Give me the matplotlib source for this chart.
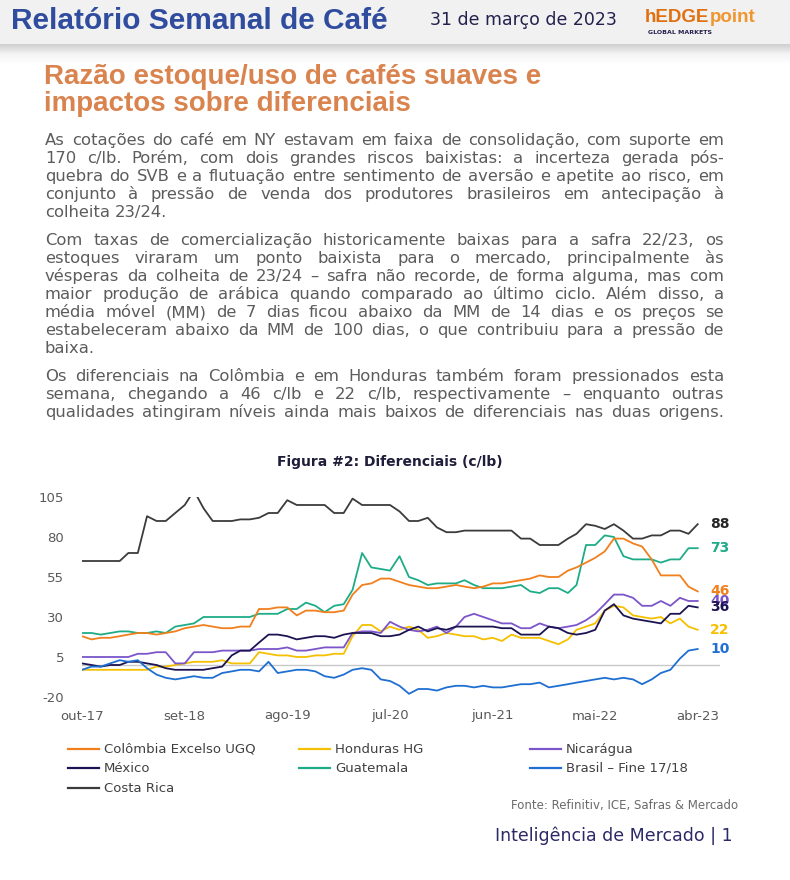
import pandas as pd
import matplotlib
matplotlib.use('Agg')
import matplotlib.pyplot as plt
import matplotlib.dates as mdates
from matplotlib.lines import Line2D
from matplotlib.patches import Rectangle
from matplotlib.transforms import blended_transform_factory
import numpy as np

W, H = 790, 880

# leituras mensais (c/lb), out-17 .. mar-23 + última semana de mar-23
datas = list(pd.date_range('2017-10-01', '2023-03-01', freq='MS')) + [pd.Timestamp('2023-03-31')]

colombia = [18, 16, 17, 17, 18, 19, 20, 20, 19, 20, 21, 23, 24, 25, 24, 23,
            23, 24, 24, 35, 35, 36, 36, 31, 34, 34, 33, 33, 34, 44, 50, 51, 54,
            54, 52, 50, 49, 48, 48, 49, 50, 49, 48, 49, 51, 51, 52, 53, 54,
            56, 55, 55, 59, 61, 64, 67, 71, 79, 79, 76, 74, 66, 56, 56, 56, 49, 46]
mexico = [1, 0, -1, 0, 0, 2, 2, 1, 0, -2, -3, -3, -3, -3, -2, -1,
          6, 9, 9, 14, 19, 19, 18, 16, 17, 18, 18, 17, 19, 20, 20, 20, 18,
          18, 19, 22, 24, 21, 23, 22, 24, 24, 24, 24, 24, 23, 23, 19, 19,
          19, 24, 23, 20, 19, 20, 22, 34, 38, 31, 29, 28, 27, 26, 32, 32, 37, 36]
costa_rica = [65, 65, 65, 65, 65, 70, 70, 93, 90, 90, 95, 100, 109, 98, 90, 90,
              90, 91, 91, 92, 95, 95, 103, 100, 100, 100, 100, 95, 95, 104, 100, 100, 100,
              100, 96, 90, 90, 92, 86, 83, 83, 84, 84, 84, 84, 84, 84, 79, 79,
              75, 75, 75, 79, 82, 88, 87, 85, 88, 84, 79, 79, 81, 81, 84, 84, 82, 88]
honduras = [-3, -3, -3, -3, -3, -3, -3, -3, -1, -1, 0, 1, 2, 2, 2, 3,
            1, 1, 1, 8, 7, 6, 6, 5, 5, 6, 6, 7, 7, 18, 25, 25, 21,
            24, 22, 24, 22, 17, 18, 20, 19, 18, 18, 16, 17, 15, 19, 17, 17,
            17, 15, 13, 16, 22, 24, 26, 34, 37, 36, 31, 30, 29, 30, 26, 29, 24, 22]
guatemala = [20, 20, 19, 20, 21, 21, 20, 20, 21, 20, 24, 25, 26, 30, 30, 30,
             30, 30, 30, 32, 32, 32, 35, 35, 39, 37, 33, 37, 38, 47, 70, 61, 60,
             59, 68, 55, 53, 50, 51, 51, 51, 53, 50, 48, 48, 48, 49, 50, 46,
             45, 48, 48, 45, 50, 75, 75, 81, 80, 68, 66, 66, 66, 64, 66, 66, 73, 73]
nicaragua = [5, 5, 5, 5, 5, 5, 7, 7, 8, 8, 1, 1, 8, 8, 8, 9,
             9, 9, 9, 10, 10, 10, 11, 9, 9, 10, 11, 11, 11, 20, 21, 21, 20,
             27, 24, 22, 21, 22, 24, 20, 24, 30, 32, 30, 28, 26, 26, 23, 23,
             26, 24, 23, 24, 25, 28, 32, 38, 44, 44, 42, 37, 37, 40, 37, 42, 40, 40]
brasil = [-3, -1, -1, 1, 3, 2, 3, -2, -6, -8, -9, -8, -7, -8, -8, -5,
          -4, -3, -3, -4, 2, -5, -4, -3, -3, -4, -7, -8, -6, -3, -2, -3, -9,
          -10, -13, -18, -15, -15, -16, -14, -13, -13, -14, -13, -14, -14, -13, -12, -12,
          -11, -14, -13, -12, -11, -10, -9, -8, -9, -8, -9, -12, -9, -5, -3, 4, 9, 10]

tick_datas = ['2017-10-01', '2018-09-01', '2019-08-01', '2020-07-01',
              '2021-06-01', '2022-05-01', '2023-04-01']
tick_labels = ['out-17', 'set-18', 'ago-19', 'jul-20', 'jun-21', 'mai-22', 'abr-23']
y_ticks = [105, 80, 55, 30, 5, -20]

# nome, valores, cor (ordem de desenho)
series = [
    ('Costa Rica', costa_rica, '#3b3b3b'),
    ('Guatemala', guatemala, '#1eac88'),
    ('Colômbia Excelso UGQ', colombia, '#f07f1c'),
    ('Honduras HG', honduras, '#f5c000'),
    ('Nicarágua', nicaragua, '#7b55c9'),
    ('México', mexico, '#1c1452'),
    ('Brasil – Fine 17/18', brasil, '#1f6fd2'),
]
label_cores = {'Costa Rica': '#262626'}

paragrafo1 = [
    "As cotações do café em NY estavam em faixa de consolidação, com suporte em",
    "170 c/lb. Porém, com dois grandes riscos baixistas: a incerteza gerada pós-",
    "quebra do SVB e a flutuação entre sentimento de aversão e apetite ao risco, em",
    "conjunto à pressão de venda dos produtores brasileiros em antecipação à",
    "colheita 23/24.",
]
paragrafo2 = [
    "Com taxas de comercialização historicamente baixas para a safra 22/23, os",
    "estoques viraram um ponto baixista para o mercado, principalmente às",
    "vésperas da colheita de 23/24 – safra não recorde, de forma alguma, mas com",
    "maior produção de arábica quando comparado ao último ciclo. Além disso, a",
    "média móvel (MM) de 7 dias ficou abaixo da MM de 14 dias e os preços se",
    "estabeleceram abaixo da MM de 100 dias, o que contribuiu para a pressão de",
    "baixa.",
]
paragrafo3 = [
    "Os diferenciais na Colômbia e em Honduras também foram pressionados esta",
    "semana, chegando a 46 c/lb e 22 c/lb, respectivamente – enquanto outras",
    "qualidades atingiram níveis ainda mais baixos  de diferenciais nas duas origens.",
]

fig = plt.figure(figsize=(W / 100, H / 100), dpi=100)
fig.patch.set_facecolor('white')
renderer = fig.canvas.get_renderer()


def fx(px):
    return px / W


def fy(py):
    return 1 - py / H


# --- faixa do cabeçalho + sombra
bg = fig.add_axes([0, 0, 1, 1], zorder=-5)
bg.axis('off')
bg.add_patch(Rectangle((0, 0), W, 44, color='#f1f1f1', lw=0))
grad = np.linspace(0, 1, 40).reshape(-1, 1)
sombra = matplotlib.colors.LinearSegmentedColormap.from_list('s', ['#cfcfcf', '#f4f4f4', '#ffffff'])
bg.imshow(grad, cmap=sombra, extent=(0, W, 64, 44), aspect='auto', zorder=1)
bg.set_xlim(0, W)
bg.set_ylim(H, 0)

fig.text(fx(11), fy(21), 'Relatório Semanal de Café', fontsize=21.5, fontweight='bold',
         family='Liberation Sans', color='#2f4c9e', va='center')
fig.text(fx(430), fy(20), '31 de março de 2023', fontsize=12.5, color='#23204e',
         family='DejaVu Sans', va='center')
logo1 = fig.text(fx(645), fy(18), 'hEDGE', fontsize=13.5, fontweight='bold',
                 family='Liberation Sans', color='#e07010', va='center')
x_point = 645 + logo1.get_window_extent(renderer).width
fig.text(fx(x_point), fy(18), 'point', fontsize=13.5, fontweight='bold',
         family='Liberation Sans', color='#f0962e', va='center')
fig.text(fx(648), fy(33), 'GLOBAL MARKETS', fontsize=4.5, fontweight='bold',
         family='DejaVu Sans', color='#23204e', va='center')

fig.text(fx(44), fy(84), 'Razão estoque/uso de cafés suaves e', fontsize=20,
         fontweight='bold', family='Liberation Sans', color='#d9844f', va='baseline')
fig.text(fx(44), fy(111), 'impactos sobre diferenciais', fontsize=20,
         fontweight='bold', family='Liberation Sans', color='#d9844f', va='baseline')

# --- texto justificado
estilo = dict(fontsize=10.5, family='DejaVu Sans', color='#5c5c5c')


def largura(s):
    t = fig.text(0, 0, s, **estilo)
    w = t.get_window_extent(renderer).width
    t.remove()
    return w


# tamanho da fonte ajustado para a 1a linha ocupar a largura da coluna
nat1 = largura(paragrafo1[0])
estilo['fontsize'] = min(11.8, 10.5 * 676 / nat1)
esp_nat = largura('x x') - largura('xx')


def paragrafo(linhas, y_base, x0=45, x1=724, passo=18):
    alvo = x1 - x0
    for i, linha in enumerate(linhas):
        palavras = linha.split()
        ws = [largura(p) for p in palavras]
        natural = sum(ws) + esp_nat * (len(palavras) - 1)
        ultima = i == len(linhas) - 1
        if (not ultima or natural > 0.9 * alvo) and len(palavras) > 1:
            esp = (alvo - sum(ws)) / (len(palavras) - 1)
        else:
            esp = esp_nat
        x = x0
        for p, w in zip(palavras, ws):
            fig.text(fx(x), fy(y_base + i * passo), p, va='baseline', **estilo)
            x += w + esp


paragrafo(paragrafo1, 145)
paragrafo(paragrafo2, 245)
paragrafo(paragrafo3, 381)

# --- gráfico
fig.text(fx(390), fy(462), 'Figura #2: Diferenciais (c/lb)', fontsize=10, fontweight='bold',
         family='DejaVu Sans', color='#1f1d3a', ha='center', va='center')

ax = fig.add_axes([fx(82), fy(697), fx(720) - fx(82), (697 - 497) / H])
d0 = mdates.date2num(pd.Timestamp('2017-10-01'))
d1 = mdates.date2num(pd.Timestamp('2023-04-01'))
ax.set_xlim(d0, d0 + (d1 - d0) * (720 - 82) / (698 - 82))
ax.set_ylim(-20, 105)
ax.axhline(0, color='#c8c8c8', lw=1, zorder=1)

for nome, vals, cor in series:
    ax.plot(datas, vals, color=cor, lw=1.3, zorder=2)

trans = blended_transform_factory(ax.transAxes, ax.transData)
for nome, vals, cor in series:
    ax.text((710 - 82) / (720 - 82), vals[-1], str(vals[-1]), transform=trans,
            color=label_cores.get(nome, cor), fontsize=10, fontweight='bold',
            family='DejaVu Sans', va='center', ha='left', clip_on=False)

ax.set_xticks([mdates.date2num(pd.Timestamp(d)) for d in tick_datas])
ax.set_xticklabels(tick_labels)
ax.set_yticks(y_ticks)
ax.set_yticklabels([str(v) for v in y_ticks])
ax.tick_params(length=0, labelsize=9.5, labelcolor='#595959', pad=9)
ax.tick_params(axis='y', pad=13)
for lab in ax.get_xticklabels() + ax.get_yticklabels():
    lab.set_family('DejaVu Sans')
for s in ax.spines.values():
    s.set_visible(False)
ax.set_facecolor('none')

# --- legenda
cores = {nome: cor for nome, vals, cor in series}
ordem = [['Colômbia Excelso UGQ', 'Honduras HG', 'Nicarágua'],
         ['México', 'Guatemala', 'Brasil – Fine 17/18'],
         ['Costa Rica']]
col_x = [68, 299, 530]
row_y = [749, 768, 788]
for r, linha in enumerate(ordem):
    for c, nome in enumerate(linha):
        x, y = col_x[c], row_y[r]
        fig.add_artist(Line2D([fx(x), fx(x + 31)], [fy(y), fy(y)], color=cores[nome], lw=1.6))
        fig.text(fx(x + 36), fy(y), nome, fontsize=9.5, color='#404040',
                 family='DejaVu Sans', va='center')

fig.text(fx(738), fy(805), 'Fonte: Refinitiv, ICE, Safras & Mercado', fontsize=8.5,
         color='#6a6a6a', family='DejaVu Sans', ha='right', va='center')
fig.text(fx(733), fy(836), 'Inteligência de Mercado | 1', fontsize=12.5,
         color='#2b2966', family='DejaVu Sans', ha='right', va='center')

fig.savefig('out.png', dpi=100)
